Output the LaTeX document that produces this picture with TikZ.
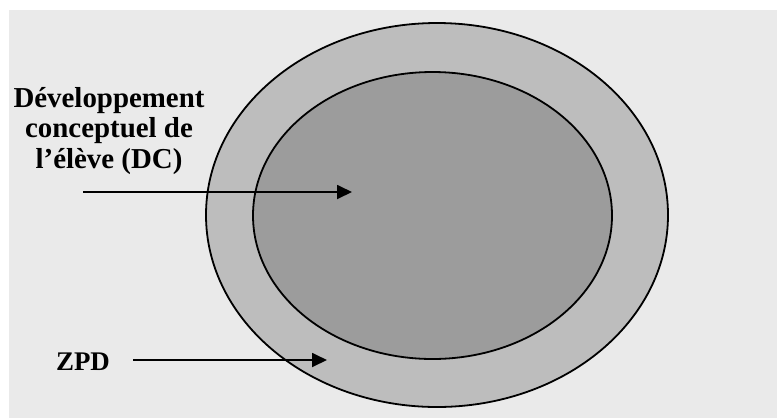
\documentclass[tikz,border=0pt]{standalone}
\usepackage{fontspec}
\setmainfont{Liberation Serif}
\usetikzlibrary{arrows.meta,shapes.geometric}
\definecolor{bgc}{HTML}{EAEAEA}
\definecolor{ringc}{HTML}{BDBDBD}
\definecolor{corec}{HTML}{9C9C9C}
\tikzset{
  lbl/.style={font=\bfseries\fontsize{29}{30.5}\selectfont, align=center, inner sep=0pt, text=black},
  pointer/.style={line width=1.8bp, -{Triangle[length=15bp,width=14bp]}},
  rim/.style={draw=black, line width=1.8bp, ellipse, inner sep=0pt}
}
\begin{document}
\begin{tikzpicture}[x=1bp,y=-1bp]
\useasboundingbox (0,0) rectangle (777,418);
\fill[white] (0,0) rectangle (777,418);
\fill[bgc] (9,10) rectangle (777,418);
\node[rim, fill=ringc, minimum width=462bp, minimum height=384bp] (zpd) at (437,215) {};
\node[rim, fill=corec, minimum width=359bp, minimum height=287bp] (dc) at (432.5,215.5) {};
\node[lbl, anchor=base] (t1) at (109,168) {Développement\\conceptuel de\\l’élève (DC)};
\node[lbl, anchor=base, font=\bfseries\fontsize{27}{30}\selectfont] (t2) at (83,370) {ZPD};
\coordinate (a1s) at (83,192);
\coordinate (a1e) at (352,192);
\coordinate (a2s) at (133,360);
\coordinate (a2e) at (327,360);
\draw[pointer] (a1s) -- (a1e);
\draw[pointer] (a2s) -- (a2e);
\end{tikzpicture}
\end{document}
